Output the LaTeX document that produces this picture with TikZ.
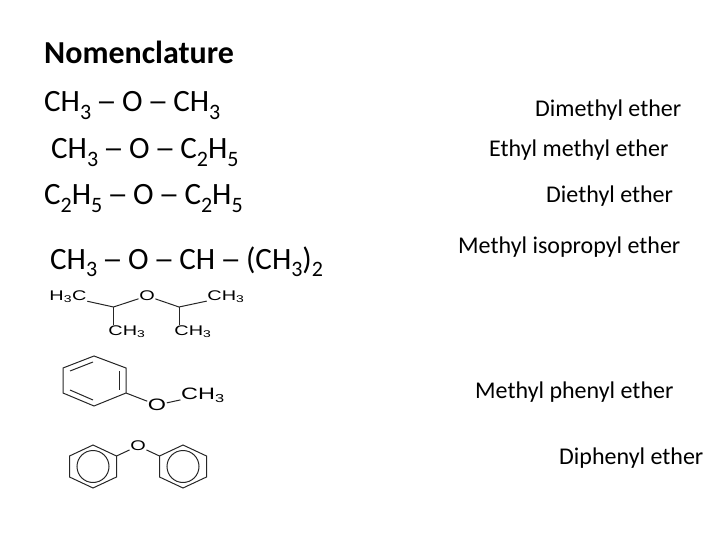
\documentclass[tikz,border=0pt]{standalone}
\usepackage{fontspec}
\setmainfont{Carlito}
\newfontfamily\chemfont{Liberation Sans}
\newcommand{\sbs}[1]{\textsubscript{#1}}
\newcommand{\low}[1]{\raisebox{-8pt}{\fontsize{22}{22}\selectfont #1}}
\newcommand{\lnk}{\kern5pt\scalebox{1.35}[1]{–}\kern5pt}
\newcommand{\wide}[1]{\scalebox{1.42}[1]{#1}}
\tikzset{
  formula/.style={anchor=base west, inner sep=0pt, font=\fontsize{31}{31}\selectfont},
  label/.style={anchor=base west, inner sep=0pt, font=\fontsize{24}{24}\selectfont},
  atom/.style={inner sep=0.5pt, font=\chemfont\fontsize{14}{14}\selectfont},
  bigatom/.style={inner sep=0.5pt, font=\chemfont\fontsize{16.5}{16.5}\selectfont},
  bond/.style={line width=1pt, black!85}
}
\begin{document}
\begin{tikzpicture}[x=1pt, y=-1pt]
  \useasboundingbox (0, 0) rectangle (720, 540);

  % formulas
  \node[formula, font=\fontsize{32}{32}\selectfont\bfseries] (title) at (44, 64) {Nomenclature};
  \node[formula] (f1) at (44, 111.5) {CH\low{3}\lnk O\lnk CH\low{3}};
  \node[formula] (f2) at (51, 159) {CH\low{3}\lnk O\lnk C\low{2}H\low{5}};
  \node[formula] (f3) at (44, 205) {C\low{2}H\low{5}\lnk O\lnk C\low{2}H\low{5}};
  \node[formula] (f4) at (50, 269) {CH\low{3}\lnk O\lnk CH\lnk (CH\low{3})\low{2}};

  % names
  \node[label] (n1) at (535, 117) {Dimethyl ether};
  \node[label] (n2) at (489, 157) {Ethyl methyl ether};
  \node[label] (n3) at (546, 203) {Diethyl ether};
  \node[label] (n4) at (458, 254) {Methyl isopropyl ether};
  \node[label] (n5) at (475, 398) {Methyl phenyl ether};
  \node[label] (n6) at (559, 464) {Diphenyl ether};

  % diisopropyl ether
  \node[atom] (a1) at (68, 297) {\wide{H\sbs{3}C}};
  \node[atom] (o1) at (147, 296) {\wide{O}};
  \node[atom] (a2) at (226, 297) {\wide{CH\sbs{3}}};
  \node[atom] (a3) at (127, 332) {\wide{CH\sbs{3}}};
  \node[atom] (a4) at (193, 332) {\wide{CH\sbs{3}}};
  \coordinate (b1) at (113.5, 307);
  \coordinate (b2) at (179, 307);
  \draw[bond] (a1) -- (b1) -- (o1) -- (b2) -- (a2);
  \draw[bond] (b1) -- (113.5, 325);
  \draw[bond] (b2) -- (179, 325);

  % methyl phenyl ether
  \coordinate (p1) at (94, 356);
  \coordinate (p2) at (126, 368);
  \coordinate (p3) at (126, 393);
  \coordinate (p4) at (94, 406);
  \coordinate (p5) at (63, 393);
  \coordinate (p6) at (63, 368);
  \node[bigatom] (o2) at (157, 405) {\wide{O}};
  \node[bigatom] (a5) at (203, 395) {\wide{CH\sbs{3}}};
  \draw[bond] (p1) -- (p2) -- (p3) -- (p4) -- (p5) -- (p6) -- cycle;
  \draw[bond] (p3) -- (o2) -- (a5);
  \draw[bond] (93, 362) -- (70, 371);
  \draw[bond] (119, 371) -- (119, 390);
  \draw[bond] (70, 390) -- (93, 400);

  % diphenyl ether
  \node[atom] (o3) at (138, 446) {\wide{O}};
  \foreach \cx/\nm in {93/l, 183/r} {
    \draw[bond] (\cx, 445) -- (\cx+23.5, 456) -- (\cx+23.5, 477) -- (\cx, 488)
      -- (\cx-23.5, 477) -- (\cx-23.5, 456) -- cycle;
    \draw[bond] (\cx, 466.5) circle (16);
  }
  \coordinate (q1) at (116.5, 456);
  \coordinate (q2) at (159.5, 456);
  \draw[bond] (q1) -- (o3) -- (q2);
\end{tikzpicture}
\end{document}
